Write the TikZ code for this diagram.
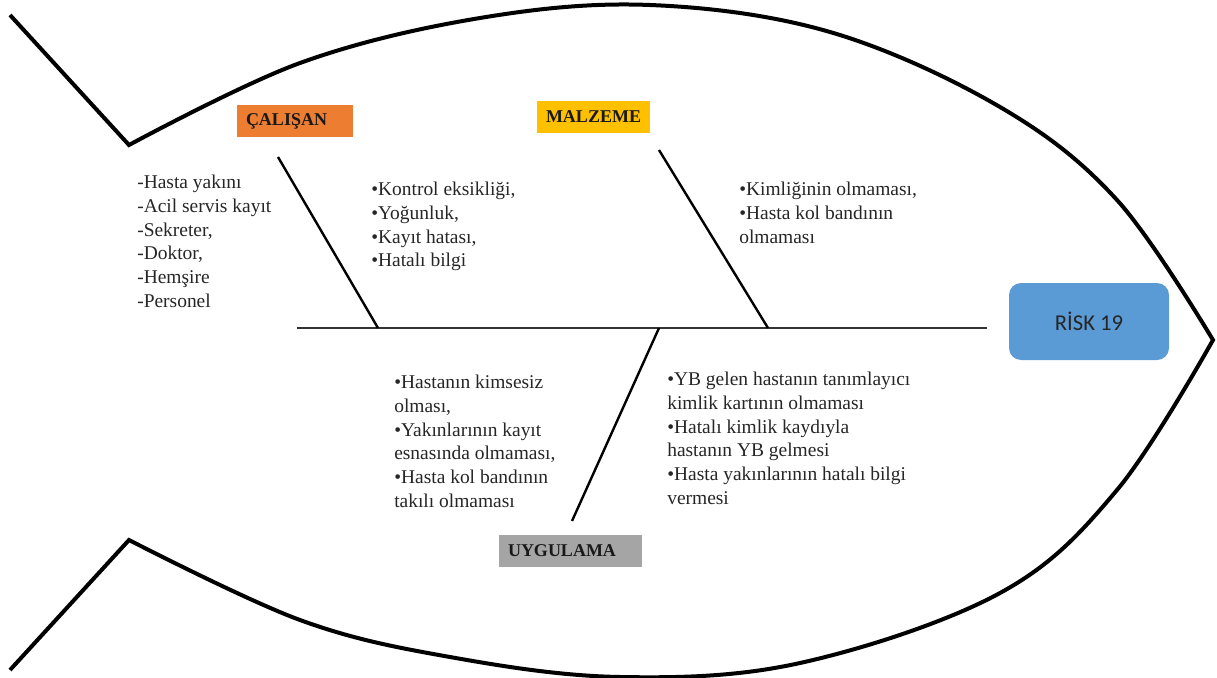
\documentclass[tikz,border=0pt]{standalone}
\usepackage{fontspec}
\setmainfont{Liberation Serif}
\newfontfamily\riskfont{Carlito}
\definecolor{calisanfill}{HTML}{ED7D31}
\definecolor{malzemefill}{HTML}{FFC000}
\definecolor{uygulamafill}{HTML}{A5A5A5}
\definecolor{riskfill}{HTML}{5B9BD5}
\definecolor{bodytext}{HTML}{262626}
\definecolor{spinegray}{HTML}{333333}
\begin{document}
\begin{tikzpicture}[x=0.75pt,y=-0.75pt,
  outline/.style={line width=3pt, line join=miter},
  bone/.style={line width=1.8pt, draw=black},
  spine/.style={line width=2.2pt, draw=spinegray},
  catbox/.style={minimum height=24pt, inner ysep=0pt, inner xsep=6.75pt,
    font=\bfseries\fontsize{13.5}{15}\selectfont, text=black!90},
  cause/.style={anchor=north west, inner sep=0pt, align=left, text=bodytext,
    font=\fontsize{14.6}{17.8}\selectfont},
]
\useasboundingbox (0,0) rectangle (1217,678);

% fish body: tail notch, upper and lower body curves meeting at the nose
\draw[outline] (10,15) -- (129,145)
  -- plot[smooth, tension=0.6] coordinates {(129,145) (300,63) (480,18) (650,5) (830,32) (1000,107) (1117,200) (1213,340)}
  -- plot[smooth, tension=0.6] coordinates {(1213,340) (1117,490) (1000,593) (800,663) (620,677) (450,657) (300,620) (129,540)}
  -- (10,670);

% effect box
\node[fill=riskfill, rounded corners=9pt, minimum width=120pt, minimum height=57.75pt,
      font=\riskfont\fontsize{17}{19}\selectfont, text=black!85] (risk) at (1089,321.5) {RİSK 19};

% category boxes
\node[catbox, fill=calisanfill, text width=73.5pt, align=left] (calisan) at (295,121) {ÇALIŞAN};
\node[catbox, fill=malzemefill, text width=71.25pt, align=center] (malzeme) at (593.5,116.5) {MALZEME};
\node[catbox, fill=uygulamafill, text width=93.75pt, align=left] (uygulama) at (570.5,550.5) {UYGULAMA};

% spine and bones
\coordinate (spineL) at (297,328);
\coordinate (spineR) at (987,328);
\coordinate (cTop) at (278,157);
\coordinate (cFoot) at (378,328);
\coordinate (mTop) at (659,150);
\coordinate (mFoot) at (768,328);
\coordinate (uFoot) at (659,328);
\coordinate (uEnd) at (572,521);
\draw[spine] (spineL) -- (spineR);
\draw[bone] (cTop) -- (cFoot);
\draw[bone] (mTop) -- (mFoot);
\draw[bone] (uFoot) -- (uEnd);

% causes
\node[cause] (staff) at (137,175) {-Hasta yakını\\-Acil servis kayıt\\-Sekreter,\\-Doktor,\\-Hemşire\\-Personel};
\node[cause] (staffcause) at (371,182) {•Kontrol eksikliği,\\•Yoğunluk,\\•Kayıt hatası,\\•Hatalı bilgi};
\node[cause] (material) at (739,182) {•Kimliğinin olmaması,\\•Hasta kol bandının\\olmaması};
\node[cause] (practiceL) at (394,375) {•Hastanın kimsesiz\\olması,\\•Yakınlarının kayıt\\esnasında olmaması,\\•Hasta kol bandının\\takılı olmaması};
\node[cause] (practiceR) at (667,372) {•YB gelen hastanın tanımlayıcı\\kimlik kartının olmaması\\•Hatalı kimlik kaydıyla\\hastanın YB gelmesi\\•Hasta yakınlarının hatalı bilgi\\vermesi};
\end{tikzpicture}
\end{document}
